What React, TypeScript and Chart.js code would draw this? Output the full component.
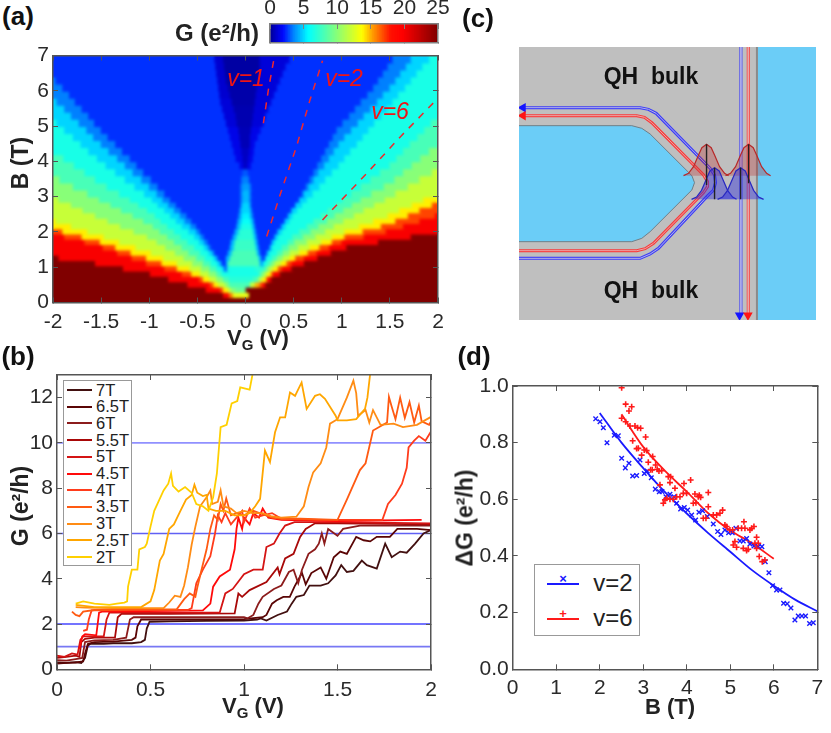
import React, { useEffect, useRef } from "react";
import { Chart, registerables } from "chart.js";

Chart.register(...registerables);

const FONT = '"Liberation Sans", Arial, sans-serif';
const TICK_COLOR = "#2a2a2a";
const FRAME_COLOR = "#555555";

// ---------- Panel (a): G(VG, B) bands. Each row: [left edges, centre G/V list, right edges]
const colormapStops: [number, number[]][] = [
  [0, [0, 0, 144]], [1, [0, 0, 208]], [2, [0, 8, 255]], [3.5, [0, 128, 255]], [5.75, [0, 255, 255]],
  [9.75, [128, 255, 128]], [13.75, [255, 255, 0]], [15.25, [255, 160, 0]], [18, [255, 16, 0]],
  [19.75, [255, 0, 0]], [25, [128, 0, 0]],
];
const leftLevels = [25, 20, 17, 14, 12, 10, 8, 6.5, 5, 3.5];
const rightLevels = [3.5, 5, 6.5, 8, 10, 12, 14, 17, 20, 25];
const lowRowCentres = [0.075, 0.225, 0.375, 0.525, 0.675, 0.825, 0.975, 1.125, 1.275, 1.425, 1.575, 1.725, 1.875, 2.025, 2.175, 2.325, 2.475, 2.625, 2.775, 2.925];
const highRowCentres = [3.1, 3.3, 3.5, 3.7, 3.9, 4.1, 4.3, 4.5, 4.7, 4.9, 5.1, 5.3, 5.5, 5.7, 5.9, 6.1, 6.3, 6.5, 6.7, 6.9];
type Row = [number[], number[], number[]];
const lowRows: Row[] = [
  [[], [25], []],
  [[-0.23], [20, -0.17, 16, -0.13, 13, 0.04, 25], []],
  [[-0.41, -0.26, -0.23, -0.18, -0.15, -0.1], [9, 0, 25], []],
  [[-0.6, -0.37, -0.33, -0.28, -0.21, -0.17, -0.14], [8, 0.05, 12, 0.1, 15, 0.15, 17], [0.18, 0.21]],
  [[-0.8, -0.48, -0.44, -0.37, -0.3, -0.23, -0.17], [7, 0.08, 8, 0.13, 10], [0.15, 0.18, 0.22, 0.23, 0.27]],
  [[-0.99, -0.66, -0.56, -0.47, -0.38, -0.3, -0.25, -0.19], [6.5, 0.14, 8], [0.17, 0.2, 0.23, 0.27, 0.29, 0.36]],
  [[-1.27, -0.84, -0.71, -0.58, -0.46, -0.37, -0.3, -0.24, -0.22, -0.21], [3, -0.19, 6.5, 0.1, 7], [0.19, 0.22, 0.25, 0.29, 0.34, 0.38, 0.48]],
  [[-1.56, -1.03, -0.87, -0.71, -0.55, -0.44, -0.36, -0.29, -0.26, -0.24], [2.5, -0.2, 4.5, -0.18, 8, 0.15, 4.5], [0.17, 0.18, 0.19, 0.23, 0.27, 0.31, 0.37, 0.43, 0.48, 0.61]],
  [[-1.94, -1.18, -1.03, -0.85, -0.64, -0.51, -0.42, -0.33, -0.3, -0.28], [2.5, -0.2, 4.5, -0.16, 8, 0.14, 4.5, 0.17, 2.5], [0.2, 0.21, 0.22, 0.28, 0.33, 0.39, 0.46, 0.52, 0.61, 0.75]],
  [[-2, -1.33, -1.19, -0.98, -0.73, -0.59, -0.47, -0.38, -0.34, -0.32], [2.5, -0.18, 4.5, -0.14, 8, 0.12, 4.5, 0.15, 2.5], [0.22, 0.23, 0.25, 0.33, 0.39, 0.46, 0.56, 0.65, 0.74, 0.89]],
  [[-2, -1.48, -1.35, -1.14, -0.83, -0.66, -0.53, -0.43, -0.39, -0.36], [2.5, -0.16, 4.5, -0.12, 7.5, 0.11, 4.5, 0.14, 2.5], [0.25, 0.26, 0.28, 0.38, 0.45, 0.55, 0.67, 0.77, 0.87, 1.05]],
  [[-2, -1.67, -1.51, -1.31, -0.92, -0.74, -0.6, -0.48, -0.43, -0.39], [2.5, -0.15, 4.5, -0.11, 7.5, 0.1, 4.5, 0.13, 2.5], [0.27, 0.28, 0.31, 0.44, 0.51, 0.64, 0.79, 0.9, 1, 1.38]],
  [[-2, -1.88, -1.7, -1.47, -1.02, -0.81, -0.67, -0.53, -0.47, -0.43], [2.5, -0.13, 4.5, -0.09, 7, 0.09, 4.5, 0.12, 2.5], [0.3, 0.31, 0.34, 0.49, 0.6, 0.73, 0.9, 1.03, 1.23, 1.72]],
  [[-2, -2, -1.9, -1.64, -1.16, -0.89, -0.74, -0.59, -0.51, -0.47], [2.5, -0.11, 4.5, -0.07, 7, 0.08, 4.5, 0.11, 2.5], [0.33, 0.34, 0.38, 0.56, 0.68, 0.83, 1.03, 1.22, 1.46, 2]],
  [[-2, -2, -2, -1.81, -1.3, -0.96, -0.81, -0.66, -0.57, -0.51], [2.5, -0.09, 4.5, -0.05, 6.5, 0.07, 4.5, 0.1, 2.5], [0.37, 0.38, 0.42, 0.64, 0.76, 0.92, 1.18, 1.41, 1.64, 2]],
  [[-2, -2, -2, -1.97, -1.43, -1.06, -0.88, -0.72, -0.63, -0.56], [2.5, -0.08, 4.5, -0.04, 6, 0.06, 4.5, 0.09, 2.5], [0.41, 0.41, 0.46, 0.71, 0.85, 1.02, 1.33, 1.56, 1.81, 2]],
  [[-2, -2, -2, -2, -1.56, -1.17, -0.94, -0.78, -0.68, -0.61], [2.5, -0.07, 4, -0.04, 5.5, 0.05, 4, 0.08, 2.5], [0.44, 0.45, 0.49, 0.79, 0.93, 1.13, 1.48, 1.69, 1.97, 2]],
  [[-2, -2, -2, -2, -1.69, -1.29, -1.02, -0.84, -0.74, -0.67], [2.5, -0.06, 4, -0.04, 5, 0.05, 4, 0.07, 2.5], [0.48, 0.48, 0.54, 0.86, 1.02, 1.23, 1.6, 1.81, 2, 2]],
  [[-2, -2, -2, -2, -1.81, -1.4, -1.11, -0.91, -0.8, -0.72], [2.5, -0.05, 4, -0.03, 5, 0.04, 4, 0.06, 2.5], [0.52, 0.52, 0.59, 0.94, 1.11, 1.34, 1.73, 1.94, 2, 2]],
  [[-2, -2, -2, -2, -1.94, -1.52, -1.2, -0.97, -0.86, -0.78], [2.5, -0.05, 3.5, -0.03, 4.5, 0.04, 3.5, 0.06, 2.5], [0.56, 0.56, 0.64, 1.01, 1.2, 1.45, 1.85, 2, 2, 2]],
];
const highRows: Row[] = [
  [[-2, -2, -2, -2, -2, -1.64, -1.31, -1.05, -0.92, -0.84], [2.5, -0.05, 3.5, -0.03, 4.5, 0.04, 3.5, 0.06, 2.5], [0.59, 0.61, 0.7, 1.1, 1.31, 1.56, 2, 2, 2, 2]],
  [[-2, -2, -2, -2, -2, -1.79, -1.44, -1.15, -1, -0.91], [2.5, -0.05, 3.5, -0.03, 4, 0.04, 3.5, 0.06, 2.5], [0.63, 0.66, 0.77, 1.2, 1.44, 1.69, 2, 2, 2, 2]],
  [[-2, -2, -2, -2, -2, -1.93, -1.56, -1.25, -1.08, -0.98], [2.5, -0.04, 3.5, 0.04, 2.5], [0.67, 0.71, 0.83, 1.3, 1.55, 1.81, 2, 2, 2, 2]],
  [[-2, -2, -2, -2, -2, -2, -1.67, -1.35, -1.17, -1.06], [2.5, -0.03, 3, 0.03, 2.5], [0.71, 0.76, 0.9, 1.4, 1.64, 1.94, 2, 2, 2, 2]],
  [[-2, -2, -2, -2, -2, -2, -1.78, -1.45, -1.25, -1.13], [2.5, -0.06, 1.5, -0.02, 0.8, 0.02, 1.5, 0.06, 2.5], [0.75, 0.82, 0.97, 1.5, 1.73, 2, 2, 2, 2, 2]],
  [[-2, -2, -2, -2, -2, -2, -1.89, -1.54, -1.33, -1.2], [2.5, -0.1, 1.5, -0.03, 0.8, 0.03, 1.5, 0.08, 2.5], [0.79, 0.87, 1.03, 1.57, 1.82, 2, 2, 2, 2, 2]],
  [[-2, -2, -2, -2, -2, -2, -2, -1.63, -1.42, -1.28], [2.5, -0.12, 1.5, -0.04, 0.8, 0.04, 1.5, 0.09, 2.5], [0.83, 0.92, 1.09, 1.64, 1.91, 2, 2, 2, 2, 2]],
  [[-2, -2, -2, -2, -2, -2, -2, -1.71, -1.5, -1.35], [2.5, -0.14, 1.5, -0.05, 0.6, 0.05, 1.5, 0.1, 2.5], [0.87, 0.97, 1.16, 1.71, 2, 2, 2, 2, 2, 2]],
  [[-2, -2, -2, -2, -2, -2, -2, -1.79, -1.58, -1.43], [2.5, -0.16, 1.5, -0.06, 0.6, 0.05, 1.5, 0.13, 2.5], [0.91, 1.03, 1.22, 1.79, 2, 2, 2, 2, 2, 2]],
  [[-2, -2, -2, -2, -2, -2, -2, -1.88, -1.65, -1.5], [2.5, -0.18, 1.5, -0.07, 0.6, 0.06, 1.5, 0.16, 2.5], [0.95, 1.1, 1.28, 1.86, 2, 2, 2, 2, 2, 2]],
  [[-2, -2, -2, -2, -2, -2, -2, -1.96, -1.73, -1.57], [2.5, -0.2, 1.2, -0.09, 0.5, 0.07, 1.2, 0.19, 2.5], [1.01, 1.17, 1.34, 1.93, 2, 2, 2, 2, 2, 2]],
  [[-2, -2, -2, -2, -2, -2, -2, -2, -1.81, -1.63], [2.5, -0.22, 1.2, -0.1, 0.5, 0.08, 1.2, 0.21, 2.5], [1.08, 1.23, 1.41, 2, 2, 2, 2, 2, 2, 2]],
  [[-2, -2, -2, -2, -2, -2, -2, -2, -1.88, -1.7], [2.5, -0.24, 1.2, -0.12, 0.5, 0.09, 1.2, 0.24, 2.5], [1.14, 1.3, 1.47, 2, 2, 2, 2, 2, 2, 2]],
  [[-2, -2, -2, -2, -2, -2, -2, -2, -1.96, -1.77], [2.5, -0.26, 1.2, -0.14, 0.4, 0.1, 1.2, 0.27, 2.5], [1.2, 1.37, 1.53, 2, 2, 2, 2, 2, 2, 2]],
  [[-2, -2, -2, -2, -2, -2, -2, -2, -2, -1.83], [2.5, -0.27, 1, -0.16, 0.4, 0.11, 1.2, 0.3, 2.5], [1.27, 1.43, 1.59, 2, 2, 2, 2, 2, 2, 2]],
  [[-2, -2, -2, -2, -2, -2, -2, -2, -2, -1.9], [2.5, -0.28, 1, -0.18, 0.4, 0.12, 1.2, 0.33, 2.5], [1.33, 1.5, 1.66, 2, 2, 2, 2, 2, 2, 2]],
  [[-2, -2, -2, -2, -2, -2, -2, -2, -2, -1.97], [2.5, -0.29, 1, -0.2, 0.3, 0.13, 1.2, 0.36, 2.5], [1.38, 1.56, 1.72, 2, 2, 2, 2, 2, 2, 2]],
  [[-2, -2, -2, -2, -2, -2, -2, -2, -2, -2], [2.5, -0.3, 1, -0.21, 0.3, 0.14, 1.2, 0.39, 2.5], [1.43, 1.61, 1.78, 2, 2, 2, 2, 2, 2, 2]],
  [[-2, -2, -2, -2, -2, -2, -2, -2, -2, -2], [2.5, -0.31, 1, -0.22, 0.3, 0.15, 1.2, 0.42, 2.5], [1.48, 1.67, 1.84, 2, 2, 2, 2, 2, 2, 2]],
  [[-2, -2, -2, -2, -2, -2, -2, -2, -2, -2], [2.5, -0.32, 1, -0.23, 0.3, 0.15, 1.2, 0.46, 2.5], [1.53, 1.72, 1.91, 2, 2, 2, 2, 2, 2, 2]],
];
const nu1Line = [[0.186, 5.08], [0.237, 6.02], [0.297, 6.92]];
const nu2Line = [[0.22, 1.87], [0.376, 3.19], [0.53, 4.42], [0.67, 5.74], [0.8, 6.85]];
const nu6Line = [[0.8, 2.34], [1.26, 3.66], [1.61, 4.7], [1.95, 5.65]];

// ---------- Panel (b): G(VG) traces
const traceLabels = ["7T", "6.5T", "6T", "5.5T", "5T", "4.5T", "4T", "3.5T", "3T", "2.5T", "2T"];
const traceColors = ["#421010", "#5a0505", "#8c1c1c", "#a80808", "#d41414", "#ff0a0a", "#ff3c1c", "#ff5a12", "#ff8c14", "#ffa600", "#ffd000"];
const trace7T = [[0, 0.3], [0.05, 0.28], [0.1, 0.32], [0.13, 0.28], [0.15, 0.5], [0.165, 1.05], [0.18, 1.13], [0.25, 1.12], [0.3, 1.15], [0.4, 1.15], [0.45, 1.2], [0.47, 1.3], [0.48, 1.8], [0.495, 2.1], [0.6, 2.12], [0.8, 2.14], [1, 2.15], [1.07, 2.2], [1.09, 2.25], [1.12, 2.15], [1.18, 2.4], [1.23, 2.55], [1.255, 2.9], [1.28, 3.2], [1.32, 3.28], [1.35, 3.7], [1.41, 3.7], [1.45, 3.8], [1.49, 4.15], [1.52, 4.6], [1.55, 4.3], [1.585, 4.35], [1.63, 4.8], [1.657, 4.6], [1.71, 4.45], [1.755, 5.55], [1.79, 4.95], [1.835, 5.2], [1.87, 5.15], [1.915, 5.55], [1.96, 6], [2, 6.15]];
const trace6p5T = [[0, 0.25], [0.05, 0.28], [0.1, 0.3], [0.14, 0.35], [0.15, 0.7], [0.165, 1.12], [0.2, 1.2], [0.3, 1.22], [0.4, 1.3], [0.42, 1.4], [0.43, 1.9], [0.45, 2.2], [0.7, 2.2], [1, 2.22], [1.1, 2.3], [1.12, 2.4], [1.15, 2.9], [1.175, 3.05], [1.21, 3.2], [1.245, 3.2], [1.27, 3.65], [1.31, 4.25], [1.33, 3.75], [1.36, 4.25], [1.41, 4.5], [1.44, 4], [1.48, 4.95], [1.515, 5.2], [1.55, 5.1], [1.6, 5.85], [1.64, 5.7], [1.675, 5.65], [1.71, 5.85], [1.78, 5.85], [1.82, 6.2], [1.925, 6.2], [2, 6.15]];
const trace6T = [[0, 0.4], [0.05, 0.38], [0.1, 0.45], [0.135, 0.5], [0.15, 1.2], [0.2, 1.28], [0.3, 1.3], [0.37, 1.4], [0.39, 2.2], [0.41, 2.3], [0.7, 2.3], [1, 2.3], [1.02, 2.25], [1.05, 2.4], [1.077, 2.9], [1.1, 3.2], [1.16, 3.55], [1.2, 3.7], [1.24, 4.3], [1.265, 4.4], [1.29, 3.8], [1.31, 4.4], [1.345, 5.1], [1.38, 5.3], [1.4, 5.55], [1.416, 6], [1.43, 5.55], [1.45, 6.2], [1.5, 5.9], [1.53, 6.2], [1.62, 6.35], [1.8, 6.35], [2, 6.35]];
const trace5p5T = [[0, 0.5], [0.05, 0.55], [0.1, 0.6], [0.12, 0.55], [0.13, 1.2], [0.15, 1.35], [0.2, 1.4], [0.31, 1.4], [0.325, 2.3], [0.345, 2.45], [0.6, 2.45], [0.95, 2.47], [0.97, 3.35], [0.99, 3.2], [1.03, 3.5], [1.12, 3.85], [1.18, 4.5], [1.19, 4.2], [1.22, 4.9], [1.265, 5.1], [1.3, 5.85], [1.33, 6.2], [1.38, 6.45], [1.5, 6.45], [2, 6.4]];
const trace5T = [[0, 0.6], [0.04, 0.55], [0.08, 0.7], [0.11, 0.65], [0.125, 1.3], [0.14, 1.45], [0.25, 1.45], [0.265, 2.2], [0.28, 2.5], [0.6, 2.5], [0.87, 2.5], [0.9, 3.35], [0.94, 3.55], [1, 4.2], [1.05, 4.4], [1.1, 4.4], [1.12, 5.4], [1.16, 5.55], [1.19, 6], [1.22, 6.35], [1.27, 6.5], [1.5, 6.5], [2, 6.45]];
const trace4p5T = [[0.12, 0.9], [0.135, 1.45], [0.15, 1.55], [0.21, 1.5], [0.225, 2.5], [0.24, 2.55], [0.6, 2.58], [0.78, 2.6], [0.82, 2.9], [0.835, 3.65], [0.87, 4.1], [0.925, 4.4], [0.95, 5.3], [0.96, 6.2], [0.97, 6.7], [0.99, 6.2], [1, 6.7], [1.03, 6.4], [1.05, 6.9], [1.08, 6.7], [1.1, 7.1], [1.13, 6.7], [1.2, 6.6], [1.5, 6.55], [1.95, 6.6]];
const trace4T = [[0.14, 1.7], [0.16, 1.75], [0.17, 2.2], [0.185, 2.6], [0.4, 2.62], [0.7, 2.62], [0.72, 2.7], [0.745, 3.8], [0.78, 4.4], [0.82, 5], [0.845, 6], [0.86, 6.8], [0.88, 6.5], [0.9, 6.9], [0.93, 6.4], [0.96, 6.7], [0.99, 7], [1, 6.5], [1.03, 7.1], [1.06, 6.7], [1.1, 6.8], [1.15, 6.9], [1.2, 6.65], [1.4, 6.6], [1.74, 6.6], [1.77, 7.3], [1.81, 7.7], [1.845, 8.2], [1.87, 8.9], [1.88, 9.8], [1.91, 10.1], [1.935, 10.3], [1.97, 10.1], [2, 10.5]];
const trace3p5T = [[0.08, 2.55], [0.1, 2.4], [0.12, 2.35], [0.14, 2.55], [0.2, 2.62], [0.4, 2.65], [0.64, 2.65], [0.68, 3.1], [0.71, 3.35], [0.74, 3.2], [0.75, 3.6], [0.77, 4.3], [0.8, 5.3], [0.82, 6.2], [0.84, 6.8], [0.86, 6.6], [0.875, 7.3], [0.89, 7], [0.905, 7.55], [0.93, 6.8], [0.96, 6.9], [1, 6.8], [1.05, 7], [1.1, 6.85], [1.15, 6.7], [1.2, 6.65], [1.3, 6.65], [1.5, 6.6], [1.55, 7.5], [1.62, 8.8], [1.65, 9.1], [1.69, 10.55], [1.765, 10.9], [1.775, 12.03], [1.79, 11.6], [1.81, 11.05], [1.835, 12], [1.86, 11.1], [1.885, 11.8], [1.91, 10.9], [1.935, 11.65], [1.95, 10.95], [1.99, 10.8], [2, 10.95]];
const trace3T = [[0.1, 2.75], [0.15, 2.72], [0.3, 2.7], [0.57, 2.7], [0.6, 2.95], [0.63, 3.25], [0.66, 3.2], [0.68, 3.7], [0.7, 4.5], [0.72, 5.5], [0.74, 6.3], [0.765, 7.2], [0.8, 7.6], [0.82, 7.9], [0.83, 7.3], [0.86, 7.4], [0.875, 7.9], [0.89, 7.2], [0.93, 7.1], [0.96, 6.9], [1, 7], [1.05, 6.9], [1.1, 6.9], [1.15, 6.75], [1.2, 6.7], [1.28, 6.74], [1.32, 7.2], [1.345, 8.05], [1.37, 8.7], [1.41, 9.1], [1.44, 9.8], [1.46, 10.85], [1.5, 11.05], [1.55, 12], [1.585, 12.75], [1.6, 12.2], [1.61, 11.2], [1.65, 11.45], [1.67, 10.9], [1.69, 11.45], [1.73, 10.8], [1.8, 10.85], [1.85, 10.7], [1.925, 10.8], [2, 11.15]];
const trace2p5T = [[0.1, 2.85], [0.2, 2.75], [0.45, 2.75], [0.5, 3], [0.52, 3.5], [0.55, 4.8], [0.57, 5.1], [0.6, 6.2], [0.625, 6.4], [0.66, 7], [0.69, 7.5], [0.72, 7.7], [0.735, 8.15], [0.75, 7.8], [0.78, 7.65], [0.8, 7.7], [0.81, 7.1], [0.85, 7], [0.9, 7], [0.95, 6.8], [1, 6.8], [1.03, 6.9], [1.06, 7.2], [1.086, 7.53], [1.112, 9.66], [1.139, 9.15], [1.166, 10.47], [1.193, 11.13], [1.22, 11.13], [1.246, 12.23], [1.273, 12.08], [1.308, 12.67], [1.335, 11.5], [1.38, 12.08], [1.406, 12.15], [1.433, 11.95], [1.49, 11.2], [1.5, 11], [1.55, 11], [1.6, 11.05], [1.647, 11.5], [1.66, 12], [1.674, 13]];
const trace2T = [[0.1, 2.9], [0.14, 3], [0.2, 2.9], [0.28, 2.85], [0.32, 2.9], [0.36, 2.95], [0.375, 3], [0.38, 3.65], [0.4, 4.4], [0.43, 4.4], [0.44, 5.3], [0.47, 5.4], [0.48, 5.55], [0.5, 6.3], [0.52, 7], [0.57, 7.9], [0.595, 8.2], [0.61, 8.65], [0.62, 8.1], [0.65, 7.85], [0.685, 8.05], [0.72, 7.8], [0.745, 7.3], [0.78, 7.2], [0.81, 7], [0.835, 7.6], [0.855, 8.65], [0.875, 10.7], [0.907, 10.8], [0.934, 11.75], [0.964, 11.85], [0.98, 12.45], [1.03, 12.35], [1.045, 13]];
const traces = [trace7T, trace6p5T, trace6T, trace5p5T, trace5T, trace4p5T, trace4T, trace3p5T, trace3T, trace2p5T, trace2T];
const plateauValues = [1, 2, 6, 10];
const plateauColors = ["#7878f4", "#4646ff", "#6060f4", "#9090ff"];

// ---------- Panel (d): conductance step vs field
const nu2Points = [[1.907, 0.884], [2.006, 0.874], [2.083, 0.853], [2.167, 0.8], [2.335, 0.826], [2.427, 0.824], [2.504, 0.745], [2.588, 0.711], [2.672, 0.727], [2.757, 0.682], [2.848, 0.684], [2.925, 0.739], [3.024, 0.691], [3.093, 0.7], [3.185, 0.676], [3.277, 0.636], [3.369, 0.627], [3.43, 0.628], [3.522, 0.609], [3.614, 0.618], [3.706, 0.609], [3.767, 0.586], [3.859, 0.566], [3.943, 0.571], [4.02, 0.562], [4.112, 0.545], [4.204, 0.527], [4.28, 0.554], [4.364, 0.56], [4.472, 0.539], [4.61, 0.513], [4.709, 0.486], [4.786, 0.476], [4.877, 0.492], [4.962, 0.482], [5.046, 0.482], [5.13, 0.498], [5.222, 0.453], [5.299, 0.453], [5.375, 0.462], [5.452, 0.442], [5.544, 0.435], [5.643, 0.433], [5.727, 0.433], [5.804, 0.38], [5.888, 0.341], [5.972, 0.295], [6.064, 0.28], [6.141, 0.28], [6.225, 0.233], [6.309, 0.231], [6.394, 0.216], [6.485, 0.174], [6.562, 0.188], [6.646, 0.188], [6.73, 0.188], [6.822, 0.162], [6.907, 0.164]];
const nu6Points = [[2.504, 0.994], [2.596, 0.936], [2.672, 0.912], [2.734, 0.927], [2.504, 0.886], [2.596, 0.874], [2.695, 0.859], [2.81, 0.859], [2.871, 0.853], [2.94, 0.851], [3.055, 0.82], [2.757, 0.807], [2.848, 0.779], [2.887, 0.78], [2.963, 0.756], [3.024, 0.774], [3.078, 0.772], [3.116, 0.731], [3.216, 0.751], [3.285, 0.721], [3.323, 0.706], [3.208, 0.704], [3.17, 0.704], [3.361, 0.7], [3.423, 0.701], [3.384, 0.651], [3.576, 0.68], [3.629, 0.68], [3.614, 0.659], [3.729, 0.639], [3.936, 0.656], [4.089, 0.668], [4.188, 0.619], [4.288, 0.614], [4.319, 0.607], [4.495, 0.624], [3.92, 0.621], [3.997, 0.621], [3.767, 0.609], [3.844, 0.609], [3.691, 0.6], [3.461, 0.586], [3.499, 0.598], [3.538, 0.604], [3.614, 0.6], [4.15, 0.586], [4.211, 0.588], [4.265, 0.609], [4.38, 0.533], [4.441, 0.533], [4.495, 0.574], [4.61, 0.545], [4.686, 0.545], [4.763, 0.551], [4.824, 0.562], [4.877, 0.509], [4.916, 0.504], [4.992, 0.492], [5.054, 0.492], [5.069, 0.439], [5.107, 0.451], [5.145, 0.431], [5.184, 0.498], [5.26, 0.498], [5.314, 0.521], [5.337, 0.498], [5.452, 0.492], [5.49, 0.498], [5.544, 0.504], [5.605, 0.466], [5.567, 0.445], [5.375, 0.419], [5.413, 0.424], [5.643, 0.445], [5.605, 0.427], [5.666, 0.398], [5.735, 0.38], [5.796, 0.386], [5.299, 0.427]];
const nu2Fit = [[2, 0.905], [2.5, 0.8], [3, 0.71], [3.5, 0.625], [4, 0.55], [4.5, 0.48], [5, 0.415], [5.5, 0.35], [6, 0.295], [6.5, 0.245], [7, 0.205]];
const nu6Fit = [[2.5, 0.9], [3, 0.785], [3.5, 0.7], [4, 0.627], [4.5, 0.55], [5, 0.49], [5.5, 0.445], [6, 0.39]];

// ---------- Panel (c): schematic, in its own drawing units
const bulkArea = [[207, 141], [1097, 141]];
const gateArea = [[922, 141], [1097, 141]];
const gateEdge = [[920, 141], [920, 960]];
const tipUpper = [[207, 377], [545, 377], [575, 385], [600, 402], [725, 527], [733, 548]];
const tipLower = [[207, 725], [545, 725], [575, 715], [600, 695], [725, 570], [733, 548]];
const blueChannel = [[225, 323], [570, 323], [595, 328], [618, 340], [780, 505], [793, 525], [796, 548], [790, 570], [770, 590], [625, 745], [600, 762], [570, 775], [207, 775]];
const redChannel = [[225, 347], [560, 347], [583, 352], [605, 368], [760, 525], [772, 545], [772, 560], [760, 578], [610, 730], [585, 746], [560, 752], [207, 752]];
const blueEdge = [[872, 141], [872, 940]];
const redEdge = [[894, 141], [894, 940]];
const redBumpA = [[700, 527], [715, 520], [730, 500], [745, 465], [755, 443], [769, 433], [783, 443], [793, 465], [808, 500], [823, 520], [835, 527]];
const redBumpB = [[826, 527], [841, 520], [856, 500], [871, 465], [881, 443], [895, 433], [909, 443], [919, 465], [934, 500], [949, 520], [961, 527]];
const blueBumpA = [[724, 598], [739, 591], [754, 571], [769, 536], [779, 513], [793, 503], [807, 513], [817, 536], [832, 571], [847, 591], [859, 598]];
const blueBumpB = [[802, 598], [817, 591], [832, 571], [847, 536], [857, 513], [871, 503], [885, 513], [895, 536], [910, 571], [925, 591], [940, 598]];
const stems = [[[769, 433], [769, 555]], [[793, 503], [793, 598]], [[871, 503], [871, 598]], [[895, 433], [895, 550]]];

const xy = (pts: number[][]) => pts.map(([x, y]) => ({ x, y }));

function colorFor(g: number) {
  for (let i = 1; i < colormapStops.length; i++) {
    const [g1, c1] = colormapStops[i];
    if (g <= g1) {
      const [g0, c0] = colormapStops[i - 1];
      const t = (g - g0) / (g1 - g0);
      const m = c0.map((c, k) => Math.round(c + (c1[k] - c) * t));
      return `rgb(${m[0]},${m[1]},${m[2]})`;
    }
  }
  return "rgb(128,0,0)";
}

function rowBars(row: Row, y: number) {
  const [left, centre, right] = row;
  const out: { bar: { x: number[]; y: number }; color: string }[] = [];
  const push = (a: number, b: number, g: number) => {
    if (b > a) out.push({ bar: { x: [a, Math.min(2, b + 0.02)], y }, color: colorFor(g) });
  };
  let cursor = -2;
  left.forEach((edge, i) => {
    push(cursor, edge, leftLevels[i]);
    cursor = edge;
  });
  for (let i = 0; i < centre.length; i += 2) {
    const end = i + 1 < centre.length ? centre[i + 1] : right.length ? right[0] : 2;
    push(cursor, end, centre[i]);
    cursor = end;
  }
  const levels = rightLevels.slice(-right.length);
  right.forEach((edge, i) => push(edge, i + 1 < right.length ? right[i + 1] : 2, levels[i]));
  return out;
}

function heatDataset(rows: Row[], centres: number[], thickness: number, order: number) {
  const cells = rows.flatMap((r, i) => rowBars(r, centres[i]));
  return {
    type: "bar",
    data: cells.map((c) => c.bar),
    backgroundColor: cells.map((c) => c.color),
    borderWidth: 0,
    barThickness: thickness,
    grouped: false,
    order,
  };
}

// Softens the drawn map the way the resampled bitmap of the figure looks.
const softenMap = {
  id: "softenMap",
  afterDatasetDraw(chart: any, args: any) {
    if (args.index !== 1) return;
    const { ctx, chartArea: a, canvas } = chart;
    const r = chart.currentDevicePixelRatio || 1;
    ctx.save();
    ctx.beginPath();
    ctx.rect(a.left, a.top, a.width, a.height);
    ctx.clip();
    ctx.filter = "blur(1.7px)";
    ctx.drawImage(canvas, a.left * r, a.top * r, a.width * r, a.height * r, a.left, a.top, a.width, a.height);
    ctx.restore();
  },
};

type AxisCfg = {
  min: number;
  max: number;
  step: number;
  size: number;
  pad: number;
  format?: (v: number) => string;
};

function axis(pos: string, c: AxisCfg, frame = FRAME_COLOR) {
  const horizontal = pos === "bottom" || pos === "top";
  return {
    type: "linear",
    position: pos,
    min: c.min,
    max: c.max,
    offset: false,
    ticks: {
      stepSize: c.step,
      includeBounds: false,
      autoSkip: false,
      maxRotation: 0,
      minRotation: 0,
      color: TICK_COLOR,
      font: { family: FONT, size: 21 },
      padding: c.pad,
      callback: (v: number) => (c.format ? c.format(v) : String(v)),
    },
    grid: { drawOnChartArea: false, offset: false, tickLength: -5, color: frame, z: 1 },
    border: { color: frame, width: 1.5, z: 1 },
    afterFit: (s: any) => {
      if (horizontal) s.height = c.size;
      else s.width = c.size;
      s.paddingTop = 0;
      s.paddingBottom = 0;
      s.paddingLeft = 0;
      s.paddingRight = 0;
    },
  };
}

function mirror(pos: string, c: AxisCfg, frame = FRAME_COLOR) {
  const a: any = axis(pos, { ...c, size: 0 }, frame);
  a.ticks.display = false;
  return a;
}

const baseOptions = (padding: any, scales: any, extra: any = {}) => ({
  responsive: false,
  animation: false,
  events: [],
  layout: { autoPadding: false, padding },
  plugins: { legend: { display: false }, tooltip: { enabled: false } },
  scales,
  ...extra,
});

const T = ({ x, y, rot, size, bold, italic, color, children }: any) => (
  <div
    style={{
      position: "absolute",
      left: x,
      top: y,
      transform: `translate(-50%,-50%)${rot ? ` rotate(${rot}deg)` : ""}`,
      whiteSpace: "pre",
      lineHeight: 1,
      fontFamily: FONT,
      fontSize: size,
      fontWeight: bold ? 700 : 400,
      fontStyle: italic ? "italic" : "normal",
      color: color || "#222",
    }}
  >
    {children}
  </div>
);

const Vg = () => (
  <>
    V<sub style={{ fontSize: 15, lineHeight: 0 }}>G</sub> (V)
  </>
);

const canvasBoxes = {
  a: { left: 0, top: 40, width: 460, height: 300 },
  bar: { left: 250, top: 0, width: 200, height: 50 },
  b: { left: 0, top: 360, width: 450, height: 350 },
  c: { left: 519, top: 47, width: 297, height: 273 },
  d: { left: 450, top: 370, width: 381, height: 340 },
};

export default function App() {
  const aRef = useRef<HTMLCanvasElement>(null);
  const barRef = useRef<HTMLCanvasElement>(null);
  const bRef = useRef<HTMLCanvasElement>(null);
  const cRef = useRef<HTMLCanvasElement>(null);
  const dRef = useRef<HTMLCanvasElement>(null);

  useEffect(() => {
    const charts: Chart[] = [];
    const make = (el: HTMLCanvasElement | null, cfg: any) => {
      charts.push(new Chart(el as HTMLCanvasElement, cfg));
    };

    // (a)
    const aX: AxisCfg = { min: -2, max: 2, step: 0.5, size: 37.5, pad: 12 };
    const aY: AxisCfg = { min: 0, max: 7, step: 1, size: 53, pad: 9 };
    const dashed = (pts: number[][]) => ({
      type: "line",
      data: xy(pts),
      borderColor: "#f0282c",
      borderWidth: 1.5,
      borderDash: [7, 7],
      pointRadius: 0,
      order: 0,
    });
    make(aRef.current, {
      type: "bar",
      data: {
        datasets: [
          heatDataset(lowRows, lowRowCentres, 6.3, 2),
          heatDataset(highRows, highRowCentres, 8.1, 1),
          dashed(nu1Line),
          dashed(nu2Line),
          dashed(nu6Line),
        ],
      },
      plugins: [softenMap],
      options: baseOptions(
        { top: 15.5, right: 22, left: 0, bottom: 0 },
        { x: axis("bottom", aX), y: axis("left", aY), x2: mirror("top", aX), y2: mirror("right", aY) },
        { indexAxis: "y" }
      ),
    });

    // colour bar
    const levels = Array.from({ length: 100 }, (_, i) => i * 0.25);
    const barX: AxisCfg = { min: 0, max: 25, step: 5, size: 24, pad: 8 };
    const barY: AxisCfg = { min: 0, max: 1, step: 1, size: 0, pad: 0 };
    const barFrame = "#808080";
    const hiddenY: any = mirror("left", barY, barFrame);
    hiddenY.grid.tickLength = 0;
    const hiddenY2: any = mirror("right", barY, barFrame);
    hiddenY2.grid.tickLength = 0;
    const barBottom: any = mirror("bottom", barX, barFrame);
    barBottom.grid.tickLength = 0;
    make(barRef.current, {
      type: "bar",
      data: {
        datasets: [
          {
            data: levels.map((g) => ({ x: [g, Math.min(25, g + 0.3)], y: 0.5 })),
            backgroundColor: levels.map((g) => colorFor(g + 0.125)),
            borderWidth: 0,
            barThickness: 20,
            grouped: false,
          },
        ],
      },
      options: baseOptions(
        { top: 0, right: 12, left: 20, bottom: 7.5 },
        { x: axis("top", barX, barFrame), y: hiddenY, x2: barBottom, y2: hiddenY2 },
        { indexAxis: "y" }
      ),
    });

    // (b)
    const bX: AxisCfg = { min: 0, max: 2, step: 0.5, size: 40.7, pad: 13 };
    const bY: AxisCfg = { min: 0, max: 13, step: 2, size: 57, pad: 9 };
    const bSets: any[] = plateauValues.map((v, i) => ({
      data: [{ x: 0, y: v }, { x: 2, y: v }],
      borderColor: plateauColors[i],
      borderWidth: 1.6,
      pointRadius: 0,
      order: 100,
    }));
    traces.forEach((t, i) =>
      bSets.push({
        label: traceLabels[i],
        data: xy(t),
        borderColor: traceColors[i],
        borderWidth: 1.8,
        pointRadius: 0,
        order: traces.length - i,
      })
    );
    make(bRef.current, {
      type: "line",
      data: { datasets: bSets },
      options: baseOptions(
        { top: 15, right: 19, left: 0, bottom: 0 },
        { x: axis("bottom", bX), y: axis("left", bY), x2: mirror("top", bX), y2: mirror("right", bY) }
      ),
    });

    // (c)
    const scene: any[] = [];
    const area = (pts: number[][], fillTo: number, color: string) =>
      scene.push({ data: xy(pts), borderWidth: 0, pointRadius: 0, fill: { value: fillTo }, backgroundColor: color });
    const stroke = (pts: number[][], color: string, w: number) =>
      scene.push({ data: xy(pts), borderColor: color, borderWidth: w, pointRadius: 0, fill: false });
    const bump = (pts: number[][], base: number, line: string, fill: string) =>
      scene.push({ data: xy(pts), borderColor: line, borderWidth: 1.2, pointRadius: 0, fill: { value: base }, backgroundColor: fill });
    const arrow = (pt: number[], color: string, rotation: number) =>
      scene.push({ data: xy([pt]), showLine: false, pointStyle: "triangle", pointRadius: 5.5, pointRotation: rotation, pointBackgroundColor: color, pointBorderColor: color, pointBorderWidth: 0, clip: false });
    area(bulkArea, 960, "#bfbfbf");
    area(gateArea, 960, "#6bcdf7");
    stroke(gateEdge, "#8a8a8a", 2);
    area(tipUpper, 550, "#6bcdf7");
    area(tipLower, 546, "#6bcdf7");
    stroke(tipUpper, "#6f7f88", 1);
    stroke(tipLower, "#6f7f88", 1);
    [[blueChannel, "#3c3cf8", "#b4b4e8"], [redChannel, "#fa3a3a", "#e8a8a8"], [blueEdge, "#3c3cf8", "#b4b4e8"], [redEdge, "#fa3a3a", "#e8a8a8"]].forEach(([p, c1, c2]: any) => {
      stroke(p, c1, 3);
      stroke(p, c2, 1);
    });
    bump(redBumpA, 527, "#b82828", "rgba(190,40,40,0.3)");
    bump(redBumpB, 527, "#b82828", "rgba(190,40,40,0.3)");
    bump(blueBumpA, 598, "#2828c0", "rgba(40,40,220,0.42)");
    bump(blueBumpB, 598, "#2828c0", "rgba(40,40,220,0.42)");
    stems.forEach((s) => stroke(s, "#222222", 1.4));
    arrow([219, 323], "#1414ff", -90);
    arrow([219, 347], "#ff1414", -90);
    arrow([868, 946], "#1414ff", 180);
    arrow([893, 946], "#ff1414", 180);
    scene.forEach((d, i) => (d.order = scene.length - i));
    make(cRef.current, {
      type: "line",
      data: { datasets: scene },
      options: baseOptions(0, {
        x: { type: "linear", display: false, min: 207, max: 1097 },
        y: { type: "linear", display: false, min: 141, max: 960, reverse: true },
      }),
    });

    // (d)
    const dX: AxisCfg = { min: 0, max: 7, step: 1, size: 40.7, pad: 11 };
    const dY: AxisCfg = { min: 0, max: 1, step: 0.2, size: 62.7, pad: 9, format: (v) => v.toFixed(1) };
    make(dRef.current, {
      type: "line",
      data: {
        datasets: [
          { label: "v=2 fit", data: xy(nu2Fit), borderColor: "#1a1aff", borderWidth: 1.8, pointRadius: 0, tension: 0.3, order: 4 },
          { label: "v=6 fit", data: xy(nu6Fit), borderColor: "#ff1a1a", borderWidth: 1.8, pointRadius: 0, tension: 0.3, order: 3 },
          { label: "v=2", data: xy(nu2Points), showLine: false, pointStyle: "crossRot", pointRadius: 3.2, pointBorderColor: "#1a1aff", pointBorderWidth: 1.4, order: 2 },
          { label: "v=6", data: xy(nu6Points), showLine: false, pointStyle: "cross", pointRadius: 3, pointBorderColor: "#ff1a1a", pointBorderWidth: 1.6, order: 1 },
        ],
      },
      options: baseOptions(
        { top: 16, right: 13.7, left: 0, bottom: 0 },
        { x: axis("bottom", dX), y: axis("left", dY), x2: mirror("top", dX), y2: mirror("right", dY) }
      ),
    });

    return () => charts.forEach((c) => c.destroy());
  }, []);

  const cv = (ref: any, box: any) => (
    <canvas
      ref={ref}
      width={box.width}
      height={box.height}
      style={{ position: "absolute", left: box.left, top: box.top, width: box.width, height: box.height }}
    />
  );

  return (
    <div style={{ position: "absolute", left: 0, top: 0, width: 831, height: 733, background: "#fff", overflow: "hidden" }}>
      {cv(cRef, canvasBoxes.c)}
      {cv(aRef, canvasBoxes.a)}
      {cv(barRef, canvasBoxes.bar)}
      {cv(bRef, canvasBoxes.b)}
      {cv(dRef, canvasBoxes.d)}

      <T x={18} y={16} size={26} bold color="#111">(a)</T>
      <T x={18} y={356} size={26} bold color="#111">(b)</T>
      <T x={478} y={18} size={26} bold color="#111">(c)</T>
      <T x={474} y={356} size={26} bold color="#111">(d)</T>

      <T x={217} y={33} size={24} bold>G (e²/h)</T>
      <T x={20} y={163} size={23} bold rot={-90}>B (T)</T>
      <T x={258} y={338} size={22} bold><Vg /></T>
      <T x={246} y={78} size={23} italic color="#f01414">v=1</T>
      <T x={344} y={78} size={23} italic color="#f01414">v=2</T>
      <T x={390} y={111} size={23} italic color="#f01414">v=6</T>

      <T x={20} y={506} size={23} bold rot={-90}>G (e²/h)</T>
      <T x={253} y={706} size={22} bold><Vg /></T>
      <div style={{ position: "absolute", left: 63, top: 380, width: 67, height: 184, border: "1px solid #999", background: "#fff" }} />
      {traceLabels.map((label, i) => (
        <React.Fragment key={label}>
          <div style={{ position: "absolute", left: 67, top: Math.round(389 + i * 16.7), width: 25, height: 2, background: traceColors[i] }} />
          <div style={{ position: "absolute", left: 96, top: 381.5 + i * 16.7, fontFamily: FONT, fontSize: 16.5, lineHeight: "17px", color: "#222" }}>{label}</div>
        </React.Fragment>
      ))}

      <T x={651} y={76} size={23} bold color="#111">QH  bulk</T>
      <T x={651} y={290} size={23} bold color="#111">QH  bulk</T>

      <T x={465} y={518} size={23} bold rot={-90}>ΔG (e²/h)</T>
      <T x={670} y={707} size={22} bold>B (T)</T>
      <div style={{ position: "absolute", left: 534, top: 564, width: 104, height: 70, border: "1.5px solid #999", background: "#fff" }} />
      <div style={{ position: "absolute", left: 547, top: 583, width: 32, height: 2, background: "#1a1aff" }} />
      <div style={{ position: "absolute", left: 547, top: 618, width: 32, height: 2, background: "#ff1a1a" }} />
      <T x={563} y={578} size={13} bold color="#1a1aff">×</T>
      <T x={563} y={613} size={13} bold color="#ff1a1a">+</T>
      <T x={613} y={583} size={24}>v=2</T>
      <T x={613} y={618} size={24}>v=6</T>
    </div>
  );
}
